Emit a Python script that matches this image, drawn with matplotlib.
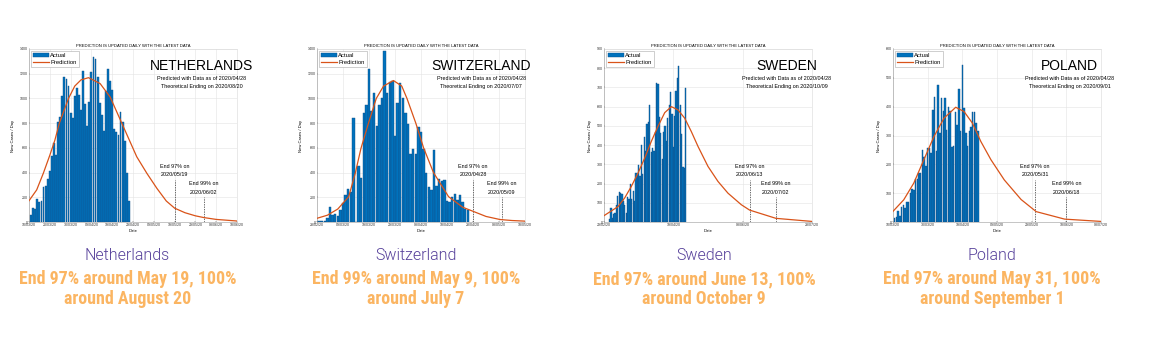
import os
import numpy as np
import matplotlib
matplotlib.use('Agg')
import matplotlib.pyplot as plt
import matplotlib.dates as mdates
import matplotlib.transforms as mtransforms
from matplotlib import font_manager
from matplotlib.patches import Patch
from matplotlib.lines import Line2D

# ---- data ----
countries = ['NETHERLANDS', 'SWITZERLAND', 'SWEDEN', 'POLAND']
names = ['Netherlands', 'Switzerland', 'Sweden', 'Poland']
captions = [('End 97% around May 19, 100%', 'around August 20'),
            ('End 99% around May 9, 100%', 'around July 7'),
            ('End 97% around June 13, 100%', 'around October 9'),
            ('End 97% around May 31, 100%', 'around September 1')]
ending = ['2020/08/20', '2020/07/07', '2020/10/09', '2020/09/01']
data_as_of = '2020/04/28'

# x axis range (start, end, tick step in days)
axis_start = ['2020-03-10', '2020-02-28', '2020-02-29', '2020-03-10']
axis_end = ['2020-06-18', '2020-05-18', '2020-07-28', '2020-07-08']
tick_step = [10, 10, 50, 20]
ymax = [1400, 1400, 900, 600]
ystep = [200, 200, 100, 100]

end97 = ['2020-05-19', '2020-04-28', '2020-06-13', '2020-05-31']
end99 = ['2020-06-02', '2020-05-09', '2020-07-02', '2020-06-18']

# daily new cases, first bar date
bar_start = ['2020-03-11', '2020-02-28', '2020-03-04', '2020-03-11']
nl_actual = [57, 116, 105, 186, 160, 172, 280, 290, 346, 409, 534, 637, 545, 811, 852,
             1019, 1172, 1159, 1104, 884, 845, 1019, 1083, 1026, 904, 1224, 952, 777,
             969, 1213, 1335, 1316, 1174, 964, 868, 734, 1061, 1235, 1140, 1066, 750,
             729, 708, 887, 806, 655, 400, 171]
ch_actual = [5, 8, 7, 12, 30, 124, 60, 65, 45, 100, 155, 215, 265, 240, 840, 0, 450, 360,
             880, 950, 1240, 900, 1045, 775, 950, 1000, 1385, 1040, 1130, 1140, 700, 960,
             1125, 1000, 880, 790, 550, 590, 550, 765, 730, 590, 400, 280, 255, 585, 290,
             345, 330, 340, 170, 160, 205, 225, 180, 215, 165, 105, 100]
se_actual = [15, 75, 20, 40, 45, 90, 135, 155, 150, 145, 110, 90, 45, 130, 120, 200, 120,
             160, 110, 255, 245, 295, 240, 400, 250, 440, 370, 510, 520, 610, 365, 385,
             370, 470, 725, 720, 545, 465, 330, 470, 500, 420, 540, 610, 675, 560, 390,
             550, 680, 750, 810, 610, 460, 285, 280, 695]
pl_actual = [15, 17, 38, 22, 52, 60, 50, 68, 70, 100, 115, 110, 150, 150, 170, 170, 250,
             225, 195, 255, 255, 240, 390, 435, 245, 475, 310, 430, 385, 430, 320, 400,
             385, 260, 265, 380, 335, 460, 315, 545, 395, 310, 265, 315, 330, 380, 380,
             345, 315]

# prediction curve: days after axis start, value
nl_pred_day = [0, 3.7, 6.9, 10, 12.4, 14.6, 19, 22, 25, 28.6, 34.2, 39, 42.2, 45.4, 48.6,
               51.8, 56.7, 61.5, 66, 70, 75, 80, 84, 90, 100]
nl_pred_val = [172, 260, 395, 540, 660, 800, 1000, 1100, 1150, 1168, 1120, 1012, 891, 770,
               649, 528, 393, 272, 170, 112, 75, 50, 36, 21, 8]
ch_pred_day = [0, 4, 8, 12.2, 14.7, 16.9, 19.8, 22.8, 25.6, 29.4, 32.6, 34.6, 38, 41,
               44.8, 50.6, 56, 59, 65, 70.4, 75, 80]
ch_pred_val = [30, 55, 105, 205, 393, 595, 800, 1000, 1100, 1145, 1100, 1000, 800, 600,
               400, 205, 120, 95, 45, 20, 12, 7]
se_pred_day = [0, 10.1, 14.9, 19.7, 24.5, 29.3, 34.1, 38.9, 43.8, 48.6, 53.4, 58.2, 63,
               67.8, 75, 82.2, 89.4, 99, 105, 124, 150]
se_pred_val = [33, 80, 125, 185, 254, 332, 419, 497, 569, 600, 583, 540, 470, 393, 289,
               211, 150, 90, 62, 19, 3]
pl_pred_day = [0, 6.2, 12, 17.8, 23.6, 29.4, 36.2, 41, 45.8, 50.7, 56.5, 64.2, 73.9,
               82.6, 99, 120]
pl_pred_val = [37, 77, 135, 216, 296, 360, 398, 383, 343, 279, 216, 146, 78, 36, 10, 2]

actuals = [nl_actual, ch_actual, se_actual, pl_actual]
pred_days = [nl_pred_day, ch_pred_day, se_pred_day, pl_pred_day]
pred_vals = [nl_pred_val, ch_pred_val, se_pred_val, pl_pred_val]

# ---- layout (pixels of the 1158x343 canvas) ----
W, H = 1158, 343
ax_left = [29, 317, 604, 893]
ax_w = 208
ax_top, ax_bot = 49, 222
big_x = [0.83, 0.79, 0.88, 0.85]      # centre of the country label, axes fraction
cap_x = [127.5, 416, 704, 992]
cap_target_w = 217                    # width of "End 97% around May 19, 100%"

bar_blue = '#0072BD'
bar_edge = '#124e86'
pred_orange = '#D95319'
name_col = '#56409a'
cap_col = '#fbb562'
chart_font = 'Liberation Sans'


def find_font(patterns):
    files = [(os.path.basename(f.fname).lower(), f.fname)
             for f in font_manager.fontManager.ttflist]
    for p in patterns:
        for fn, path in files:
            if fn.startswith(p):
                return path
    return None


cond = find_font(['robotocondensed-bold.', 'roboto_condensed-bold',
                  'notosans-condensedbold.', 'opensans-condbold',
                  'liberationsansnarrow-bold.', 'dejavusanscondensed-bold.',
                  'notosans-semicondensedbold.'])
if cond:
    cap_fp = font_manager.FontProperties(fname=cond, size=13.2)
else:
    cap_fp = font_manager.FontProperties(family='Roboto', weight='bold', size=13.2)
light = find_font(['roboto-light.'])
if light:
    name_fp = font_manager.FontProperties(fname=light, size=11.5)
else:
    name_fp = font_manager.FontProperties(family='Roboto', weight='light', size=11.5)

fig = plt.figure(figsize=(W / 100, H / 100), dpi=100)
fig.patch.set_facecolor('white')

# fit the caption font to the width seen in the picture
probe = fig.text(0, 0, captions[0][0], fontproperties=cap_fp)
wpx = probe.get_window_extent(renderer=fig.canvas.get_renderer()).width
probe.remove()
cap_fp.set_size(13.2 * min(1.1, cap_target_w / wpx))

for i in range(4):
    ax = fig.add_axes([ax_left[i] / W, 1 - ax_bot / H, ax_w / W, (ax_bot - ax_top) / H])
    x0 = mdates.date2num(np.datetime64(axis_start[i]))
    x1 = mdates.date2num(np.datetime64(axis_end[i]))

    bx = mdates.date2num(np.datetime64(bar_start[i]) + np.arange(len(actuals[i])))
    ax.bar(bx, actuals[i], width=0.88, color=bar_blue, edgecolor=bar_edge,
           linewidth=0.3, zorder=2)
    px = x0 + np.array(pred_days[i])
    ax.plot(px, pred_vals[i], color=pred_orange, lw=0.9, zorder=3)

    ax.set_xlim(x0, x1)
    ax.set_ylim(0, ymax[i])
    ax.set_xticks(np.arange(x0, x1 + 0.5, tick_step[i]))
    ax.xaxis.set_major_formatter(mdates.DateFormatter('%d/%m/%y'))
    ax.set_yticks(np.arange(0, ymax[i] + 1, ystep[i]))
    ax.tick_params(labelsize=2.6, length=1, width=0.3, pad=1, direction='in',
                   colors='#333333')
    for lab in ax.get_xticklabels() + ax.get_yticklabels():
        lab.set_fontfamily(chart_font)
    ax.grid(True, color='#e4e4e4', lw=0.4, zorder=0)
    for s in ax.spines.values():
        s.set_linewidth(0.4)
        s.set_color('#d8d8d8')
    ax.spines['left'].set_color('#999999')
    ax.spines['bottom'].set_color('#999999')

    ax.set_xlabel('Date', fontsize=3, labelpad=1.5, family=chart_font)
    ax.set_ylabel('New Cases / Day', fontsize=3, labelpad=3, family=chart_font)
    ax.set_title('PREDICTION IS UPDATED DAILY WITH THE LATEST DATA', fontsize=3,
                 pad=1.5, family=chart_font)

    # end markers
    tr = mtransforms.blended_transform_factory(ax.transData, ax.transAxes)
    d97 = mdates.date2num(np.datetime64(end97[i]))
    d99 = mdates.date2num(np.datetime64(end99[i]))
    ax.axvline(d97, ymin=0, ymax=0.243, ls=(0, (2, 1.5)), color='#333333', lw=0.5)
    ax.axvline(d99, ymin=0, ymax=0.146, ls=(0, (2, 1.5)), color='#333333', lw=0.5)
    ax.text(d97, 0.318, 'End 97% on', transform=tr, ha='center', va='center',
            fontsize=3.9, family=chart_font)
    ax.text(d97, 0.272, end97[i].replace('-', '/'), transform=tr, ha='center',
            va='center', fontsize=3.9, family=chart_font)
    ax.text(d99, 0.22, 'End 99% on', transform=tr, ha='center', va='center',
            fontsize=3.9, family=chart_font)
    ax.text(d99, 0.168, end99[i].replace('-', '/'), transform=tr, ha='center',
            va='center', fontsize=3.9, family=chart_font)

    # big label block
    ax.text(big_x[i], 0.902, countries[i], transform=ax.transAxes, ha='center',
            va='center', fontsize=10, family=chart_font, clip_on=False)
    ax.text(big_x[i], 0.832, 'Predicted with Data as of ' + data_as_of,
            transform=ax.transAxes, ha='center', va='center', fontsize=3.9,
            family=chart_font, clip_on=False)
    ax.text(big_x[i], 0.786, 'Theoretical Ending on ' + ending[i],
            transform=ax.transAxes, ha='center', va='center', fontsize=3.9,
            family=chart_font, clip_on=False)

    handles = [Patch(facecolor=bar_blue, edgecolor=bar_edge, linewidth=0.3),
               Line2D([0], [0], color=pred_orange, lw=0.9)]
    ax.legend(handles, ['Actual', 'Prediction'], loc='upper left',
              prop={'family': chart_font, 'size': 4.2}, frameon=True,
              fancybox=False, edgecolor='#aaaaaa', framealpha=1,
              borderpad=0.35, handlelength=2.6, handletextpad=0.3,
              labelspacing=0.2, borderaxespad=0.4).get_frame().set_linewidth(0.4)

    # captions under each chart
    fig.text(cap_x[i] / W, 1 - 255 / H, names[i], ha='center', va='center',
             color=name_col, fontproperties=name_fp)
    fig.text(cap_x[i] / W, 1 - 279 / H, captions[i][0], ha='center', va='center',
             color=cap_col, fontproperties=cap_fp)
    fig.text(cap_x[i] / W, 1 - 299 / H, captions[i][1], ha='center', va='center',
             color=cap_col, fontproperties=cap_fp)

fig.savefig('out.png', dpi=100, facecolor='white')
